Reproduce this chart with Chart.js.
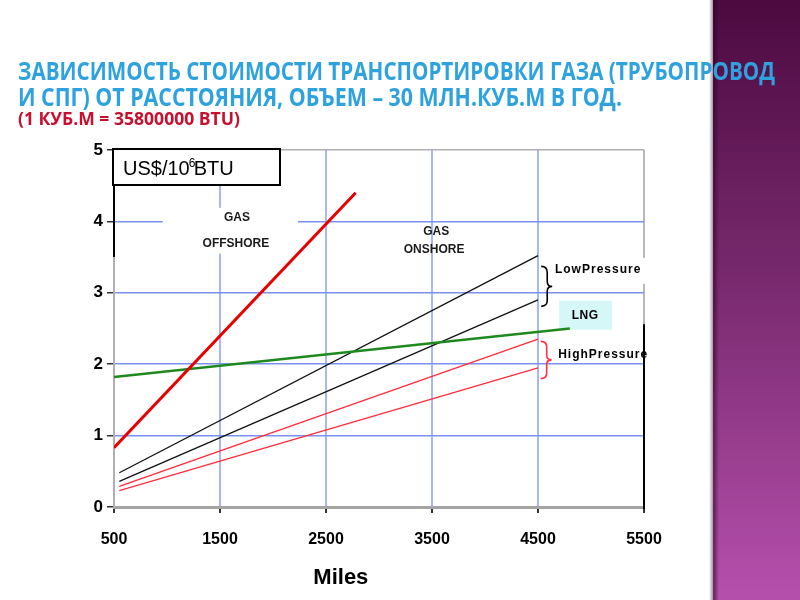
<!DOCTYPE html>
<html>
<head>
<meta charset="utf-8">
<script src="https://cdn.jsdelivr.net/npm/chart.js@4.4.1/dist/chart.umd.min.js"></script>
<style>
  html, body { margin: 0; padding: 0; background: #fff; }
  canvas { display: block; }
</style>
</head>
<body>
<canvas id="gasChart" width="800" height="600"></canvas>
<script>
// tick labels
const xTicks = [500, 1500, 2500, 3500, 4500, 5500];
const yTicks = [0, 1, 2, 3, 4, 5];

// series, miles -> US$/10^6 BTU
const offshoreMiles = [500, 2780];
const offshoreCost = [0.83, 4.4];
const lngMiles = [500, 4800];
const lngCost = [1.82, 2.5];
const onshoreMiles = [550, 4500];
const lowPressureHi = [0.48, 3.52];
const lowPressureLo = [0.36, 2.9];
const highPressureHi = [0.29, 2.35];
const highPressureLo = [0.23, 1.95];

const titleLines = [
  "ЗАВИСИМОСТЬ СТОИМОСТИ ТРАНСПОРТИРОВКИ ГАЗА (ТРУБОПРОВОД",
  "И СПГ) ОТ РАССТОЯНИЯ, ОБЪЕМ – 30 МЛН.КУБ.М В ГОД.",
];
const subTitle = "(1 КУБ.М = 35800000 BTU)";

const toPoints = (xs, ys) => xs.map((x, i) => ({ x: x, y: ys[i] }));

function fitText(ctx, text, x, y, w) {
  const m = ctx.measureText(text).width;
  ctx.save();
  ctx.translate(x, y);
  ctx.scale(w / m, 1);
  ctx.fillText(text, 0, 0);
  ctx.restore();
}

function brace(ctx, x, y1, y2, w) {
  const m = (y1 + y2) / 2, q = (y2 - y1) / 4;
  const bx = x + w * 0.55;
  ctx.beginPath();
  ctx.moveTo(x, y1);
  ctx.quadraticCurveTo(bx, y1, bx, y1 + q * 0.6);
  ctx.lineTo(bx, m - q * 0.5);
  ctx.quadraticCurveTo(bx, m, x + w, m);
  ctx.quadraticCurveTo(bx, m, bx, m + q * 0.5);
  ctx.lineTo(bx, y2 - q * 0.6);
  ctx.quadraticCurveTo(bx, y2, x, y2);
  ctx.stroke();
}

// slide background, purple strip and heading
const slidePlugin = {
  id: "slide",
  beforeDraw(chart) {
    const ctx = chart.ctx;
    ctx.save();
    ctx.fillStyle = "#fff";
    ctx.fillRect(0, 0, 800, 600);

    const g = ctx.createLinearGradient(0, 0, 0, 600);
    g.addColorStop(0, "#4c0a40");
    g.addColorStop(0.5, "#7c2c72");
    g.addColorStop(1, "#b650ad");
    ctx.fillStyle = g;
    ctx.fillRect(713, 0, 87, 600);
    const s = ctx.createLinearGradient(709, 0, 719, 0);
    s.addColorStop(0, "rgba(60,20,50,0)");
    s.addColorStop(0.5, "rgba(40,5,35,0.55)");
    s.addColorStop(1, "rgba(40,5,35,0)");
    ctx.fillStyle = s;
    ctx.fillRect(709, 0, 10, 600);

    ctx.textAlign = "left";
    ctx.textBaseline = "alphabetic";
    ctx.font = 'bold 25px "Open Sans"';
    const tg = ctx.createLinearGradient(0, 58, 0, 106);
    tg.addColorStop(0, "#2ea2de");
    tg.addColorStop(1, "#1779bd");
    ctx.fillStyle = tg;
    fitText(ctx, titleLines[0], 18, 80, 757);
    fitText(ctx, titleLines[1], 18, 105.5, 604);
    ctx.font = 'bold 17px "Open Sans"';
    ctx.fillStyle = "#c8102e";
    fitText(ctx, subTitle, 18, 125, 222);
    ctx.restore();
  },
  beforeDatasetsDraw(chart) {
    const ctx = chart.ctx;
    const xs = chart.scales.x, ys = chart.scales.y;
    const px = v => xs.getPixelForValue(v);
    const py = v => ys.getPixelForValue(v);
    const area = chart.chartArea;
    ctx.save();

    // black segments of the frame
    ctx.strokeStyle = "#000";
    ctx.lineWidth = 2;
    ctx.beginPath();
    ctx.moveTo(area.right, py(2.56));
    ctx.lineTo(area.right, area.bottom + 2);
    ctx.moveTo(area.left, area.top + 35);
    ctx.lineTo(area.left, py(3.5));
    ctx.stroke();

    // unit box
    ctx.fillStyle = "#fff";
    ctx.fillRect(area.left - 1, area.top - 1, 167, 36);
    ctx.lineWidth = 2;
    ctx.strokeRect(area.left - 1, area.top - 1, 167, 36);
    ctx.fillStyle = "#000";
    ctx.textBaseline = "alphabetic";
    ctx.textAlign = "left";
    ctx.font = '20px "Liberation Sans"';
    const ux = area.left + 9, uy = area.top + 25;
    ctx.fillText("US$/10", ux, uy);
    const w1 = ctx.measureText("US$/10").width;
    ctx.font = '12px "Liberation Sans"';
    ctx.fillText("6", ux + w1 - 1, uy - 8);
    ctx.font = '20px "Liberation Sans"';
    ctx.fillText("BTU", ux + w1 + 4, uy);

    // GAS OFFSHORE label
    ctx.fillStyle = "#fff";
    ctx.fillRect(px(960), py(4.19), px(2236) - px(960), py(3.55) - py(4.19));
    ctx.fillStyle = "#1a1a1a";
    ctx.textAlign = "center";
    ctx.textBaseline = "middle";
    ctx.font = 'bold 12px "Liberation Sans"';
    ctx.fillText("GAS", px(1660), py(4.05));
    ctx.fillText("OFFSHORE", px(1650), py(3.69));

    // GAS ONSHORE label
    ctx.fillText("GAS", px(3540), py(3.86));
    ctx.fillText("ONSHORE", px(3520), py(3.6));

    // LowPressure
    ctx.fillStyle = "#fff";
    ctx.fillRect(px(4640), py(3.49), 106, 26);
    ctx.fillStyle = "#000";
    ctx.textAlign = "left";
    ctx.font = 'bold 12px "Liberation Sans"';
    ctx.letterSpacing = "1px";
    ctx.fillText("LowPressure", px(4660), py(3.32));

    // LNG box
    ctx.fillStyle = "#d6f7f7";
    ctx.fillRect(px(4700), py(2.89), 53, 29);
    ctx.fillStyle = "#000";
    ctx.textAlign = "center";
    ctx.letterSpacing = "0.5px";
    ctx.fillText("LNG", px(4700) + 26, py(2.89) + 15);

    // HighPressure
    ctx.textAlign = "left";
    ctx.letterSpacing = "1px";
    ctx.fillText("HighPressure", px(4690), py(2.14));
    ctx.letterSpacing = "0px";

    // braces
    ctx.lineWidth = 1.6;
    ctx.strokeStyle = "#000";
    brace(ctx, px(4530), py(3.37), py(2.81), 11);
    ctx.strokeStyle = "#ff3040";
    brace(ctx, px(4525), py(2.32), py(1.8), 11);

    // axis title
    ctx.fillStyle = "#000";
    ctx.textAlign = "center";
    ctx.font = 'bold 22px "Liberation Sans"';
    ctx.fillText("Miles", px(2640), 578);
    ctx.restore();
  },
};

const ctx = document.getElementById("gasChart").getContext("2d");

const gasChart = new Chart(ctx, {
  type: "line",
  data: {
    datasets: [
      {
        label: "Gas offshore",
        data: toPoints(offshoreMiles, offshoreCost),
        borderColor: "#e80000",
        borderWidth: 3,
      },
      {
        label: "LNG",
        data: toPoints(lngMiles, lngCost),
        borderColor: "#1e8a1e",
        borderWidth: 2.5,
      },
      {
        label: "Low pressure (high)",
        data: toPoints(onshoreMiles, lowPressureHi),
        borderColor: "#111",
        borderWidth: 1.3,
      },
      {
        label: "Low pressure (low)",
        data: toPoints(onshoreMiles, lowPressureLo),
        borderColor: "#111",
        borderWidth: 1.3,
      },
      {
        label: "High pressure (high)",
        data: toPoints(onshoreMiles, highPressureHi),
        borderColor: "#ff2a3a",
        borderWidth: 1.3,
      },
      {
        label: "High pressure (low)",
        data: toPoints(onshoreMiles, highPressureLo),
        borderColor: "#ff2a3a",
        borderWidth: 1.3,
      },
    ],
  },
  options: {
    responsive: false,
    animation: false,
    events: [],
    layout: { padding: { left: 0, right: 156, top: 150, bottom: 0 } },
    elements: { point: { radius: 0 }, line: { tension: 0 } },
    plugins: { legend: { display: false }, tooltip: { enabled: false } },
    scales: {
      x: {
        type: "linear",
        min: xTicks[0],
        max: xTicks[xTicks.length - 1],
        afterBuildTicks: (scale) => {
          scale.ticks = xTicks.map((v) => ({ value: v }));
        },
        afterFit: (scale) => {
          scale.height = 93;
        },
        grid: {
          color: (c) => (c.index === xTicks.length - 1 ? "#b8b8b8" : "#a9b8f4"),
          lineWidth: 2,
          tickColor: "#333",
          tickLength: 6,
        },
        border: { color: "#a4a4a4", width: 3 },
        ticks: {
          color: "#000",
          padding: 17,
          maxRotation: 0,
          callback: (v) => String(v),
          font: { family: '"Liberation Sans"', size: 16, weight: "bold" },
        },
      },
      y: {
        min: yTicks[0],
        max: yTicks[yTicks.length - 1],
        afterBuildTicks: (scale) => {
          scale.ticks = yTicks.map((v) => ({ value: v }));
        },
        afterFit: (scale) => {
          scale.width = 114;
        },
        grid: {
          color: (c) => (c.index === yTicks.length - 1 ? "#b0b0b0" : "#7a92ee"),
          lineWidth: 1.5,
          tickColor: "#333",
          tickLength: 7,
        },
        border: { color: "#b0b0b0", width: 2 },
        ticks: {
          color: "#000",
          padding: 4,
          callback: (v) => String(v),
          font: { family: '"Liberation Sans"', size: 17, weight: "bold" },
        },
      },
    },
  },
  plugins: [slidePlugin],
});
</script>
</body>
</html>
